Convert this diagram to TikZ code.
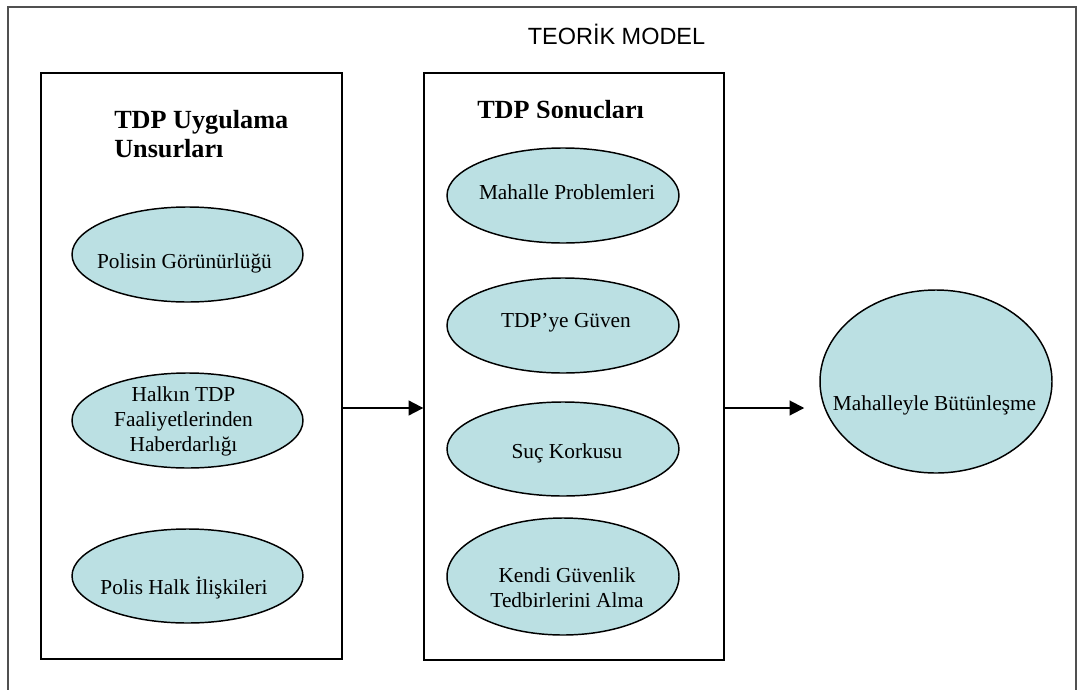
\documentclass[tikz,border=0pt]{standalone}
\usepackage{fontspec}
\setmainfont{Liberation Serif}
\newfontfamily\titlefont{Liberation Sans}
\usetikzlibrary{shapes.geometric,arrows.meta}

\definecolor{ovalfill}{RGB}{187,224,227}
\definecolor{framegray}{RGB}{80,80,80}

\tikzset{
  panel/.style={draw=black, line width=1pt, inner sep=0pt},
  oval/.style={ellipse, draw=black, line width=1.1pt, fill=ovalfill, inner sep=0pt},
  ovaltext/.style={font=\fontsize{16}{18.75}\selectfont, inner sep=0pt, align=center},
  heading/.style={font=\fontsize{19.65}{21.75}\selectfont\bfseries, inner sep=0pt, align=left},
  flow/.style={line width=1.5pt, -{Triangle[length=11pt,width=11pt]}},
}

\begin{document}
\begin{tikzpicture}[x=0.75pt,y=-0.75pt]
\useasboundingbox (0,0) rectangle (1078,689);
\fill[white] (0,0) rectangle (1078,689);

% outer frame, running on past the lower edge of the page
\begin{scope}
  \clip (0,0) rectangle (1078,689);
  \node[draw=framegray, line width=1pt, inner sep=0pt,
        minimum width=801pt, minimum height=519.75pt] (frame) at (542,353.5) {};
\end{scope}

\node[font=\titlefont\fontsize{17.6}{20}\selectfont, anchor=base, inner sep=0pt]
  (title) at (616.5,44) {TEORİK MODEL};

% the two panels
\node[panel, minimum width=225.75pt, minimum height=439.5pt] (lbox) at (191.5,366) {};
\node[panel, minimum width=225pt, minimum height=440.25pt] (mbox) at (574,366.5) {};

% panel headings
\node[heading, anchor=north west] (h1) at (114,110.3) {TDP Uygulama\\Unsurları};
\begin{scope}
  \clip (424,60) rectangle (724,117.8);
  \node[heading, anchor=base west] (h2) at (477,118) {TDP Sonucları};
\end{scope}

% left panel ovals
\node[oval, minimum width=173.25pt, minimum height=71.25pt] (e1) at (187.5,254.5) {};
\node[oval, minimum width=173.25pt, minimum height=71.25pt] (e2) at (187.5,420.5) {};
\node[oval, minimum width=173.25pt, minimum height=70.5pt]  (e3) at (187.5,576) {};

% middle panel ovals
\node[oval, minimum width=174pt, minimum height=71.25pt] (m1) at (563,195.5) {};
\node[oval, minimum width=174pt, minimum height=71.25pt] (m2) at (563,325.5) {};
\node[oval, minimum width=174pt, minimum height=70.5pt]  (m3) at (563,449) {};
\node[oval, minimum width=174pt, minimum height=87.75pt] (m4) at (563,576.5) {};

% outcome oval
\node[oval, minimum width=174pt, minimum height=137.25pt] (goal) at (936,381.5) {};

% oval labels
\node[ovaltext, anchor=base] (t1) at (184.5,268) {Polisin Görünürlüğü};
\node[ovaltext] (t2) at (183.5,421) {Halkın TDP\\Faaliyetlerinden\\Haberdarlığı};
\node[ovaltext, anchor=base] (t3) at (184,594) {Polis Halk İlişkileri};
\node[ovaltext, anchor=base] (t4) at (567,199) {Mahalle Problemleri};
\node[ovaltext, anchor=base] (t5) at (566,327) {TDP’ye Güven};
\node[ovaltext, anchor=base] (t6) at (567,458) {Suç Korkusu};
\node[ovaltext] (t7) at (567,588) {Kendi Güvenlik\\Tedbirlerini Alma};
\node[ovaltext, anchor=base] (t8) at (934.5,410) {Mahalleyle Bütünleşme};

% connectors
\coordinate (flowline) at (0,408);
\draw[flow] (lbox.east |- flowline) -- (mbox.west |- flowline);
\draw[flow] (mbox.east |- flowline) -- ([xshift=-11.25pt]goal.west |- flowline);
\end{tikzpicture}
\end{document}
